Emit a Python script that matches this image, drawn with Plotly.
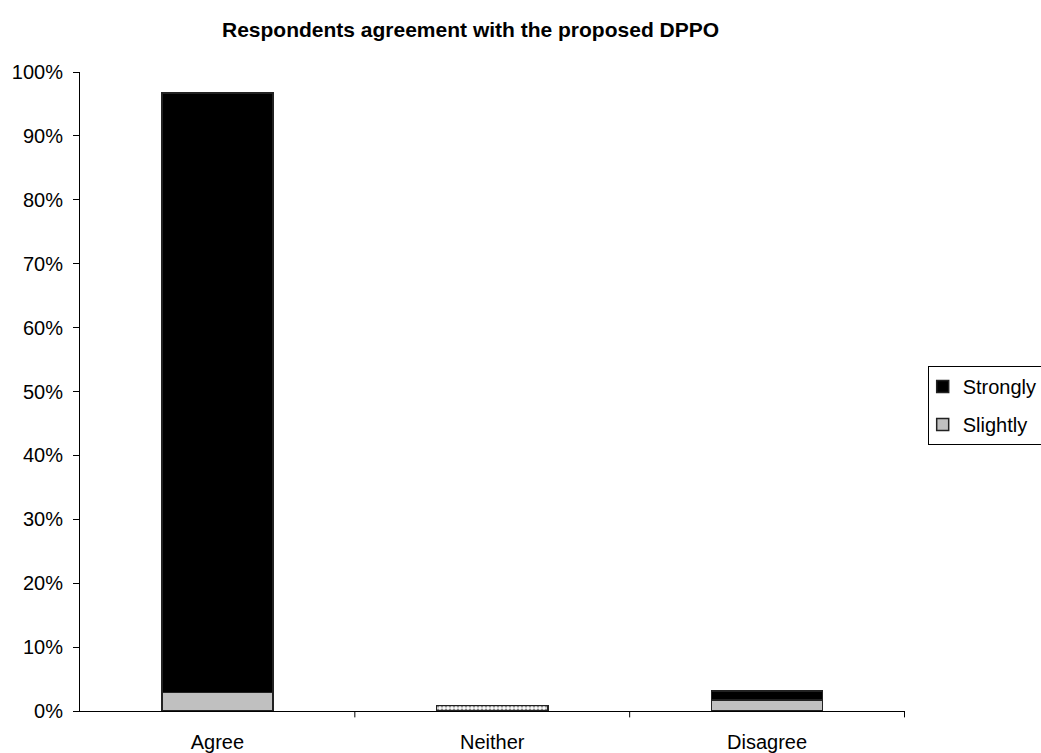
import plotly.graph_objects as go

categories = ["Agree", "Neither", "Disagree"]
slightly = [2.9, None, 1.7]
strongly = [93.8, None, 1.4]
neither = [None, 0.9, None]
y_ticks = list(range(0, 101, 10))
y_tick_labels = [f"{v}%" for v in y_ticks]

line_style = dict(color="#222222", width=1.5)

fig = go.Figure()
fig.add_trace(go.Bar(
    name="Slightly", x=categories, y=slightly,
    legendgroup="slightly", legendrank=2,
    marker=dict(color="#C0C0C0", line=line_style),
))
fig.add_trace(go.Bar(
    name="Strongly", x=categories, y=strongly,
    legendgroup="strongly", legendrank=1,
    marker=dict(color="#000000", line=line_style),
))
fig.add_trace(go.Bar(
    name="Neither", x=categories, y=neither, showlegend=False,
    marker=dict(color="#FFFFFF", line=line_style,
                pattern=dict(shape=".", fgcolor="#000000", bgcolor="#FFFFFF",
                             size=4, solidity=0.5)),
))

font_family = "Liberation Sans, Arial, sans-serif"
fig.update_layout(
    width=1041, height=753,
    barmode="stack", bargap=0.595,
    plot_bgcolor="white", paper_bgcolor="white",
    margin=dict(l=80, r=136, t=72, b=42, autoexpand=False),
    font=dict(family=font_family, size=20, color="#000000"),
    title=dict(text="<b>Respondents agreement with the proposed DPPO</b>",
               x=0.452, xanchor="center", y=0.96, yanchor="middle",
               font=dict(size=21, family=font_family)),
    legend=dict(x=1.0275, xanchor="left", y=0.478, yanchor="middle",
                traceorder="grouped", tracegroupgap=9,
                bordercolor="#000000", borderwidth=1,
                font=dict(size=20), itemwidth=30, indentation=-6,
                bgcolor="white"),
    xaxis=dict(showline=True, linecolor="#000000", linewidth=1,
               ticks="", showgrid=False, tickfont=dict(size=20),
               ticklabelstandoff=13),
    yaxis=dict(range=[0, 100], tickvals=y_ticks, ticktext=y_tick_labels,
               showline=True, linecolor="#000000", linewidth=1,
               ticks="outside", ticklen=6, tickcolor="#000000",
               showgrid=False, zeroline=False, tickfont=dict(size=20),
               ticklabelstandoff=6),
)

# Category boundary ticks below the x axis
for i in range(len(categories)):
    fig.add_shape(type="line", xref="x", yref="paper",
                  x0=i + 0.5, x1=i + 0.5, y0=0, y1=-0.01,
                  line=dict(color="#000000", width=1))

fig.write_html("out.html")
